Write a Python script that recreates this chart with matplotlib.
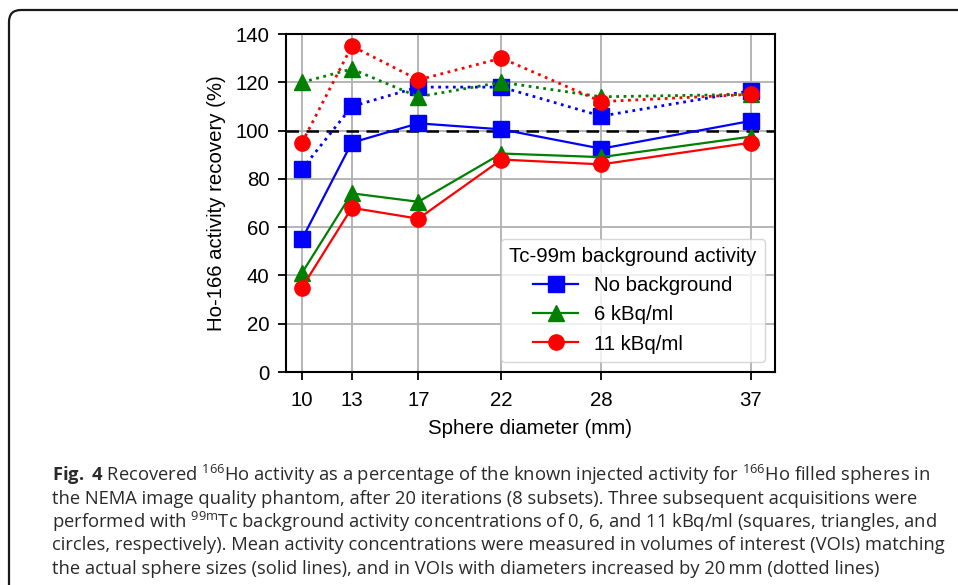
import matplotlib
matplotlib.use("Agg")
import matplotlib.pyplot as plt
from matplotlib.patches import FancyBboxPatch
from matplotlib.transforms import IdentityTransform

# --- data ---
diameters = [10, 13, 17, 22, 28, 37]

no_bg_solid = [55, 95, 103, 100.5, 92.5, 104]
no_bg_dotted = [84, 110, 118, 118, 106, 116.5]
bg6_solid = [41, 74, 70.5, 90.5, 89, 97.5]
bg6_dotted = [120, 125.5, 114, 120, 114, 115]
bg11_solid = [35, 68, 63.5, 88, 86, 95]
bg11_dotted = [95, 135, 121, 130, 112, 115]

series_labels = ["No background", "6 kBq/ml", "11 kBq/ml"]
legend_title = "Tc-99m background activity"
y_ticks = [0, 20, 40, 60, 80, 100, 120, 140]

caption_lines = [
    r"$\mathbf{Fig.}$ $\mathbf{4}$ Recovered $^{166}$Ho activity as a percentage of the known injected activity for $^{166}$Ho filled spheres in",
    "the NEMA image quality phantom, after 20 iterations (8 subsets). Three subsequent acquisitions were",
    r"performed with $^{99\mathrm{m}}$Tc background activity concentrations of 0, 6, and 11 kBq/ml (squares, triangles, and",
    "circles, respectively). Mean activity concentrations were measured in volumes of interest (VOIs) matching",
    "the actual sphere sizes (solid lines), and in VOIs with diameters increased by 20\u2009mm (dotted lines)",
]

plt.rcParams["font.family"] = ["Liberation Sans", "DejaVu Sans"]
plt.rcParams["mathtext.fontset"] = "custom"
plt.rcParams["mathtext.rm"] = "Open Sans"
plt.rcParams["mathtext.it"] = "Open Sans"
plt.rcParams["mathtext.bf"] = "Open Sans:bold"

fig = plt.figure(figsize=(9.58, 5.85), dpi=100)
ax = fig.add_axes([286 / 958, 1 - 372 / 585, (775 - 286) / 958, (372 - 34) / 585])

ax.axhline(100, color="black", linestyle="--", linewidth=1.8, dashes=(5, 3), zorder=2)

colors = ["blue", "green", "red"]
markers = ["s", "^", "o"]
solids = [no_bg_solid, bg6_solid, bg11_solid]
dots = [no_bg_dotted, bg6_dotted, bg11_dotted]

handles = []
for vals, c, m in zip(dots, colors, markers):
    ax.plot(diameters, vals, color=c, marker=m, markersize=11, linestyle=":",
            linewidth=2, zorder=3)
for vals, c, m, lab in zip(solids, colors, markers, series_labels):
    h, = ax.plot(diameters, vals, color=c, marker=m, markersize=11, linestyle="-",
                 linewidth=1.6, label=lab, zorder=4)
    handles.append(h)

ax.set_xlim(9.04, 38.45)
ax.set_ylim(0, 140)
ax.set_xticks(diameters)
ax.set_yticks(y_ticks)
ax.grid(True, color="#b0b0b0", linewidth=1.3)
ax.set_axisbelow(True)
for sp in ax.spines.values():
    sp.set_linewidth(1.5)
ax.tick_params(labelsize=14.7, width=1.3, length=6)
ax.tick_params(axis="x", pad=8)
ax.tick_params(axis="y", pad=6)
ax.set_xlabel("Sphere diameter (mm)", fontsize=14.7, labelpad=6)
ax.set_ylabel("Ho-166 activity recovery (%)", fontsize=14.7, labelpad=7)

leg = ax.legend(handles=handles, title=legend_title, loc="lower right",
                fontsize=14.7, title_fontsize=14.7, framealpha=0.8,
                borderaxespad=0.5, handlelength=2.2)

# caption
for i, line in enumerate(caption_lines):
    fig.text(52 / 958, 1 - (475 + i * 23.5) / 585, line, fontsize=13.2,
             family=["Open Sans", "DejaVu Sans"], color="#2a2a2a",
             ha="left", va="center")

# rounded border box around the figure
border = FancyBboxPatch((9, -40), 1000, 585 - 10 + 40,
                        boxstyle="round,pad=0,rounding_size=12",
                        transform=IdentityTransform(), facecolor="none",
                        edgecolor="#1a1a1a", linewidth=1.6)
fig.patches.append(border)

fig.savefig("out.png", dpi=100)
